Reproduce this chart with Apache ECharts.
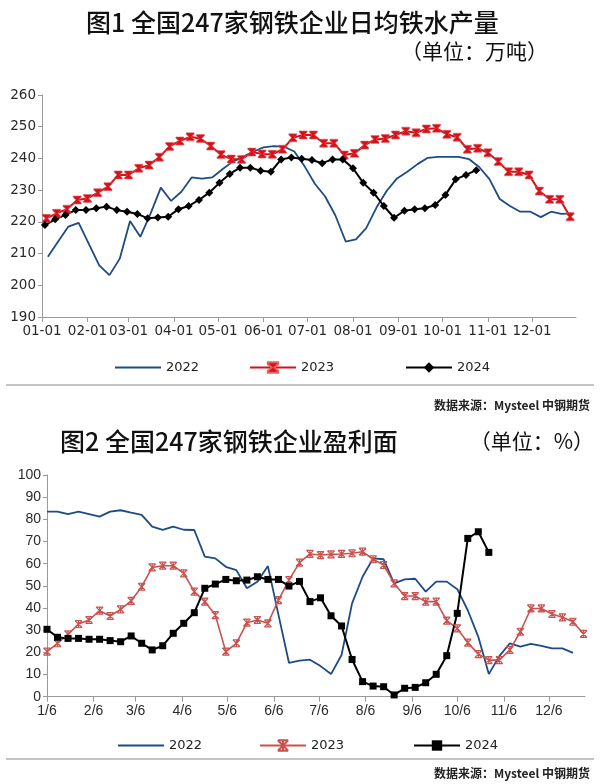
<!DOCTYPE html>
<html>
<head>
<meta charset="utf-8">
<script src="https://cdn.jsdelivr.net/npm/echarts@6.0.0/dist/echarts.min.js"></script>
<style>
html,body{margin:0;padding:0;background:#fff;}
#chart{width:600px;height:784px;}
</style>
</head>
<body>
<div id="chart"></div>
<script>
// ---------- Figure 1: daily average hot metal output (10k t) ----------
const ironMonthDays = [0, 31, 59, 90, 120, 151, 181, 212, 243, 273, 304, 334];
const ironMonthLabels = ['01-01','02-01','03-01','04-01','05-01','06-01','07-01','08-01','09-01','10-01','11-01','12-01'];
const ironYTicks = [190, 200, 210, 220, 230, 240, 250, 260];
// weekly values; first day-of-year of each series
const iron2022FirstDay = 4;
const iron2023FirstDay = 3;
const iron2024FirstDay = 2;
const iron2022 = [209.0, 213.8, 218.5, 219.7, 213.0, 206.3, 203.2, 208.4, 220.3, 215.3,
  222.6, 230.8, 226.6, 229.5, 234.0, 233.6, 234.0, 236.6, 239.0, 240.5,
  242.1, 243.5, 243.9, 243.7, 242.2, 237.5, 232.0, 228.0, 222.0, 213.8,
  214.5, 218.0, 224.5, 229.8, 233.7, 235.8, 238.2, 240.2, 240.5, 240.5,
  240.5, 239.8, 237.3, 233.5, 227.2, 225.0, 223.2, 223.2, 221.5, 223.2,
  222.5, 222.7];
const iron2023 = [221.1, 222.7, 224.0, 226.9, 227.4, 229.2, 231.1, 234.8, 234.8, 236.9,
  237.9, 240.4, 243.8, 245.5, 246.8, 246.3, 243.9, 241.2, 239.8, 239.7,
  242.0, 241.4, 241.3, 242.9, 246.5, 247.4, 247.4, 244.8, 244.8, 241.1,
  241.6, 244.2, 246.0, 246.3, 247.4, 248.6, 248.1, 249.3, 249.5, 247.6,
  246.7, 242.9, 243.2, 241.8, 239.0, 235.8, 235.8, 234.8, 229.7, 227.1,
  227.1, 221.6];
const iron2024 = [219.0, 220.8, 222.2, 223.7, 223.7, 224.3, 224.8, 223.7, 223.2, 222.5,
  221.1, 221.4, 221.6, 224.0, 225.0, 226.9, 229.2, 232.3, 235.1, 237.1,
  237.1, 236.1, 235.8, 239.7, 240.3, 239.9, 239.5, 238.5, 239.7, 239.7,
  236.9, 232.3, 229.2, 225.0, 221.3, 223.5, 224.0, 224.3, 225.3, 228.5,
  233.4, 234.8, 236.3];

// ---------- Figure 2: share of profitable mills (%) ----------
const profitMonthDays = [5, 36, 64, 95, 125, 156, 186, 217, 248, 278, 309, 339];
const profitMonthLabels = ['1/6','2/6','3/6','4/6','5/6','6/6','7/6','8/6','9/6','10/6','11/6','12/6'];
const profitFirstDay = 5;
const profit2022 = [83.5, 83.5, 82.3, 83.5, 82.4, 81.2, 83.5, 84.1, 83.0, 82.0,
  76.7, 75.2, 76.7, 75.3, 75.2, 63.2, 62.4, 58.6, 57.1, 48.9,
  51.9, 58.9, 37.0, 15.3, 16.3, 16.7, 13.8, 10.2, 18.8, 42.1,
  54.1, 62.4, 62.0, 51.1, 52.9, 53.2, 47.4, 51.9, 51.9, 48.5,
  39.0, 27.0, 10.2, 18.3, 24.1, 22.6, 23.8, 22.9, 21.8, 21.8,
  19.8];
const profit2023 = [20.3, 24.1, 28.1, 32.8, 34.6, 38.8, 36.4, 39.4, 43.2, 49.6,
  58.3, 59.1, 59.1, 55.6, 47.4, 42.9, 36.8, 20.3, 24.1, 33.4,
  34.6, 33.1, 43.6, 52.6, 60.5, 64.4, 63.9, 64.2, 64.4, 64.7,
  65.4, 62.0, 59.4, 51.1, 45.4, 45.4, 42.9, 42.9, 34.3, 30.8,
  24.4, 19.2, 16.5, 16.5, 21.1, 29.3, 39.8, 39.8, 37.3, 35.8,
  33.8, 28.3];
const profit2024 = [30.4, 26.8, 26.3, 26.3, 25.9, 25.9, 25.3, 24.8, 27.4, 24.1,
  21.1, 23.0, 28.6, 33.1, 37.9, 48.9, 50.8, 52.9, 52.3, 52.6,
  54.1, 52.9, 52.9, 49.9, 52.0, 42.9, 44.6, 36.5, 31.9, 16.8,
  6.8, 4.8, 4.5, 0.8, 3.8, 4.2, 6.3, 10.1, 18.5, 37.6,
  71.4, 74.4, 65.1];

function weekly(values, firstDay) {
  return values.map((v, i) => [firstDay + 7 * i, v]);
}

const sansNum = 'DejaVu Sans';
const cjk = '"Noto Sans CJK SC", "Noto Sans", sans-serif';
const blue = '#1d4b86';
const red1 = '#d3121c';
const red2 = '#c9524f';
const hourglass = 'path://M0,0L10,0L10,1.6L6.4,5L10,8.4L10,10L0,10L0,8.4L3.6,5L0,1.6Z';
const starBars = 'path://M0,0L10,0M0,10L10,10M0,0L10,10M10,0L0,10M5,0L5,10';

function monthLabel(days, labels) {
  return function (v) {
    const i = days.indexOf(Math.round(v));
    return i >= 0 ? labels[i] : '';
  };
}

const axisLineStyle = { color: '#9a9a9a', width: 1 };

const legendBase = {
  itemWidth: 46, itemHeight: 13, itemGap: 6, selectedMode: false,
  formatter: n => n.replace('p', ''),
  textStyle: { fontFamily: sansNum, fontSize: 13, color: '#222' }
};

const option = {
  animation: false,
  backgroundColor: '#fff',
  grid: [
    { left: 42, top: 95, width: 534, height: 222 },
    { left: 47, top: 475, width: 538, height: 221.7 }
  ],
  xAxis: [
    {
      gridIndex: 0, type: 'value', min: 0, max: 364,
      axisLine: { show: true, lineStyle: axisLineStyle },
      axisTick: { show: true, length: 5, lineStyle: axisLineStyle, customValues: ironMonthDays },
      axisLabel: { customValues: ironMonthDays, formatter: monthLabel(ironMonthDays, ironMonthLabels),
        fontFamily: sansNum, fontSize: 13.5, color: '#2a2a2a', margin: 7 },
      splitLine: { show: false }
    },
    {
      gridIndex: 1, type: 'value', min: 5, max: 363,
      axisLine: { show: true, lineStyle: axisLineStyle },
      axisTick: { show: true, length: 5, lineStyle: axisLineStyle, customValues: profitMonthDays },
      axisLabel: { customValues: profitMonthDays, formatter: monthLabel(profitMonthDays, profitMonthLabels),
        fontFamily: 'Liberation Sans', fontSize: 14, color: '#2a2a2a', margin: 7 },
      splitLine: { show: false }
    }
  ],
  yAxis: [
    {
      gridIndex: 0, type: 'value', min: ironYTicks[0], max: ironYTicks[ironYTicks.length - 1], interval: 10,
      axisLine: { show: true, lineStyle: axisLineStyle },
      axisTick: { show: true, length: 4, lineStyle: axisLineStyle },
      axisLabel: { fontFamily: sansNum, fontSize: 13.5, color: '#2a2a2a', margin: 6 },
      splitLine: { show: false }
    },
    {
      gridIndex: 1, type: 'value', min: 0, max: 100, interval: 10,
      axisLine: { show: true, lineStyle: axisLineStyle },
      axisTick: { show: true, length: 4, lineStyle: axisLineStyle },
      axisLabel: { fontFamily: 'Liberation Sans', fontSize: 14, color: '#2a2a2a', margin: 6 },
      splitLine: { show: false }
    }
  ],
  legend: [
    { data: [{ name: '2022', icon: 'rect' }], left: 110, top: 356, itemHeight: 2 },
    { data: ['2023'], left: 244, top: 356 },
    { data: ['2024'], left: 400, top: 356 },
    { data: [{ name: 'p2022', icon: 'rect' }], left: 113, top: 734, itemHeight: 2 },
    { data: ['p2023'], left: 254, top: 734 },
    { data: ['p2024'], left: 408, top: 734 }
  ].map(l => Object.assign({}, legendBase, l)),
  series: [
    { name: '2022', type: 'line', xAxisIndex: 0, yAxisIndex: 0, data: weekly(iron2022, iron2022FirstDay),
      symbol: 'none', lineStyle: { color: blue, width: 1.8 }, itemStyle: { color: blue } },
    { name: '2023', type: 'line', xAxisIndex: 0, yAxisIndex: 0, data: weekly(iron2023, iron2023FirstDay),
      symbol: hourglass, symbolSize: 8, showAllSymbol: true,
      lineStyle: { color: red1, width: 2 }, itemStyle: { color: red1, borderColor: '#e86060', borderWidth: 0.6 } },
    { name: '2024', type: 'line', xAxisIndex: 0, yAxisIndex: 0, data: weekly(iron2024, iron2024FirstDay),
      symbol: 'diamond', symbolSize: 8, showAllSymbol: true,
      lineStyle: { color: '#000', width: 2 }, itemStyle: { color: '#000' } },

    { name: 'p2022', type: 'line', xAxisIndex: 1, yAxisIndex: 1, data: weekly(profit2022, profitFirstDay),
      symbol: 'none', lineStyle: { color: blue, width: 1.8 }, itemStyle: { color: blue } },
    { name: 'p2023', type: 'line', xAxisIndex: 1, yAxisIndex: 1, data: weekly(profit2023, profitFirstDay),
      symbol: starBars, symbolSize: 7, showAllSymbol: true,
      lineStyle: { color: red2, width: 1.6 }, itemStyle: { color: 'rgba(201,82,79,0.3)', borderColor: red2, borderWidth: 1.2 } },
    { name: 'p2024', type: 'line', xAxisIndex: 1, yAxisIndex: 1, data: weekly(profit2024, profitFirstDay),
      symbol: 'rect', symbolSize: 7, showAllSymbol: true,
      lineStyle: { color: '#000', width: 2 }, itemStyle: { color: '#000' } }
  ],
  graphic: [
    { type: 'text', style: { text: '图1 全国247家钢铁企业日均铁水产量', x: 86, y: 22, verticalAlign: 'middle',
      fontFamily: cjk, fontSize: 25, fontWeight: 500, fill: '#111' } },
    { type: 'text', style: { text: '（单位：万吨）', x: 548, y: 51, align: 'right', verticalAlign: 'middle',
      fontFamily: cjk, fontSize: 21, fill: '#111' } },
    { type: 'line', shape: { x1: 6, y1: 385, x2: 594, y2: 385 }, style: { stroke: '#8a8a8a', lineWidth: 1 } },
    { type: 'text', style: { text: '数据来源：Mysteel 中钢期货', x: 590, y: 405, align: 'right', verticalAlign: 'middle',
      fontFamily: cjk, fontSize: 12, fontWeight: 'bold', fill: '#222' } },
    { type: 'text', style: { text: '图2 全国247家钢铁企业盈利面', x: 60, y: 441, verticalAlign: 'middle',
      fontFamily: cjk, fontSize: 25, fontWeight: 500, fill: '#111' } },
    { type: 'text', style: { text: '（单位：%）', x: 594, y: 441, align: 'right', verticalAlign: 'middle',
      fontFamily: cjk, fontSize: 21, fill: '#111' } },
    { type: 'line', shape: { x1: 6, y1: 759, x2: 594, y2: 759 }, style: { stroke: '#8a8a8a', lineWidth: 1 } },
    { type: 'text', style: { text: '数据来源：Mysteel 中钢期货', x: 590, y: 773, align: 'right', verticalAlign: 'middle',
      fontFamily: cjk, fontSize: 12, fontWeight: 'bold', fill: '#222' } }
  ]
};

const chart = echarts.init(document.getElementById('chart'), null, { renderer: 'canvas' });
chart.setOption(option);
</script>
</body>
</html>
